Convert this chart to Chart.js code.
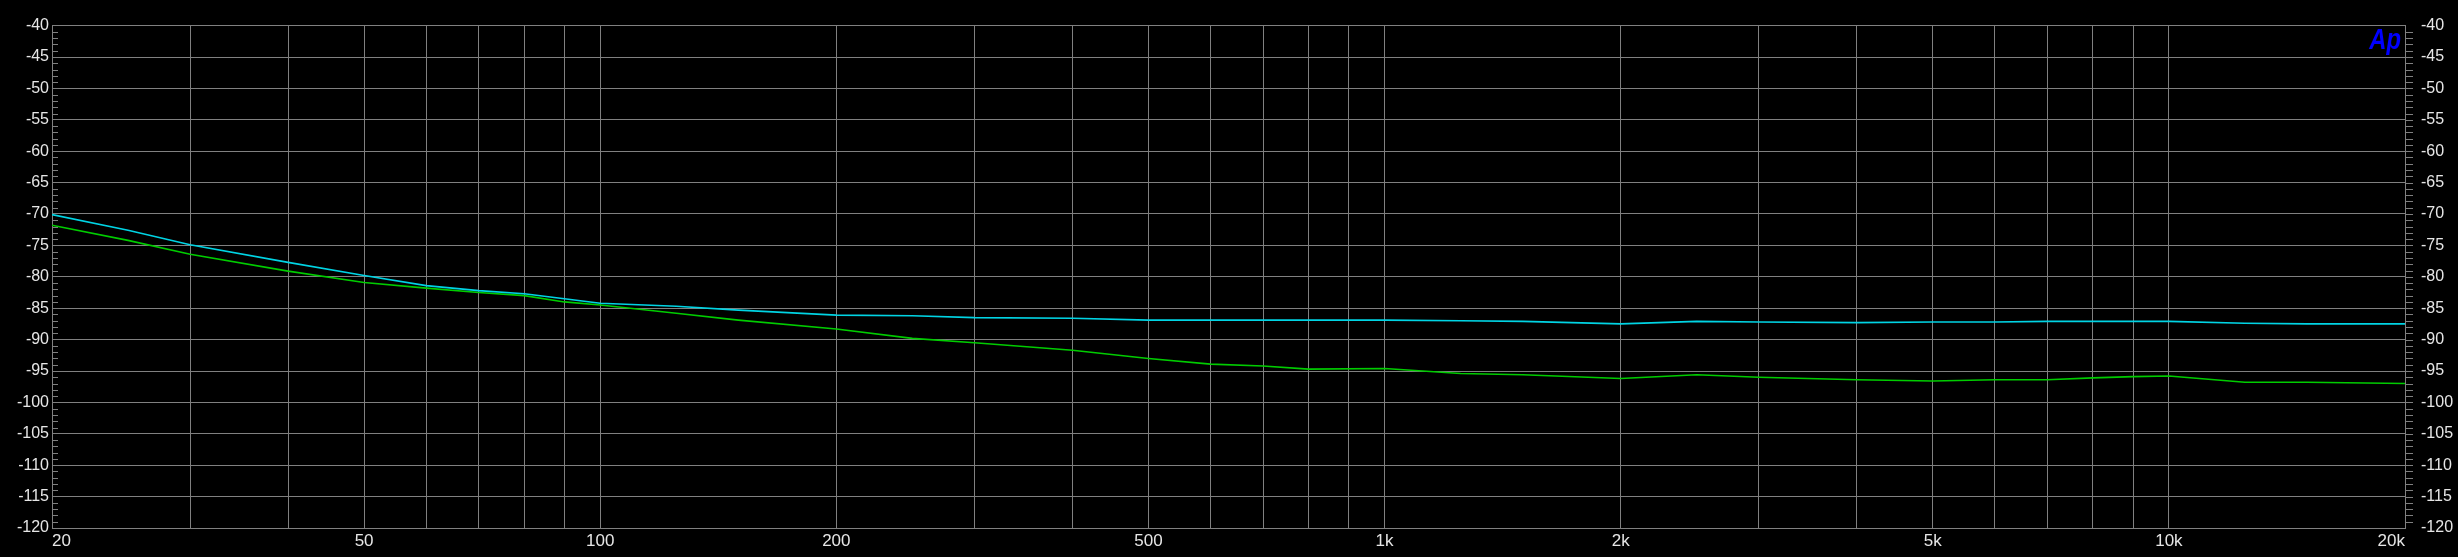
<!DOCTYPE html>
<html>
<head>
<meta charset="utf-8">
<script src="https://cdn.jsdelivr.net/npm/chart.js@4.4.1/dist/chart.umd.min.js"></script>
<style>
  html, body { margin: 0; padding: 0; background: #000; }
  #plot { display: block; }
</style>
</head>
<body>
<canvas id="plot" width="2458" height="557"></canvas>
<script>
const freqHz = [20, 25, 30, 40, 50, 60, 70, 80, 90, 100, 125, 150, 200, 250, 300, 400, 500, 600, 700, 800,
  1000, 1250, 1500, 2000, 2500, 3000, 4000, 5000, 6000, 7000, 8000, 9000, 10000, 12500, 15000, 20000];
const cyanDb = [-70.1, -72.6, -74.9, -77.7, -79.8, -81.4, -82.2, -82.7, -83.5, -84.2, -84.7, -85.3, -86.1, -86.2, -86.5, -86.6, -86.9, -86.9, -86.9, -86.9,
  -86.9, -87.0, -87.1, -87.5, -87.1, -87.2, -87.3, -87.2, -87.2, -87.1, -87.1, -87.1, -87.1, -87.4, -87.5, -87.5];
const greenDb = [-71.8, -74.2, -76.4, -79.1, -80.9, -81.8, -82.5, -83.0, -84.0, -84.5, -85.8, -86.9, -88.3, -89.8, -90.5, -91.7, -93.0, -93.9, -94.2, -94.7,
  -94.6, -95.4, -95.6, -96.2, -95.6, -96.0, -96.4, -96.6, -96.4, -96.4, -96.1, -95.9, -95.8, -96.8, -96.8, -97.0];

// axis grid + labels
const freqGrid = [20, 30, 40, 50, 60, 70, 80, 90, 100, 200, 300, 400, 500, 600, 700, 800, 900,
  1000, 2000, 3000, 4000, 5000, 6000, 7000, 8000, 9000, 10000, 20000];
const freqLabels = {20: '20', 50: '50', 100: '100', 200: '200', 500: '500', 1000: '1k', 2000: '2k', 5000: '5k', 10000: '10k', 20000: '20k'};
const dbMin = -120, dbMax = -40, dbStep = 5;

const gridColor = '#808080';
const labelColor = '#e6e6e6';
const labelFont = {family: '"Liberation Sans", Arial, sans-serif', size: 16};

// small 1 dB ticks on both y axes + the blue Ap mark
const decorPlugin = {
  id: 'decor',
  afterDraw(chart) {
    const ctx = chart.ctx;
    const y = chart.scales.y;
    const area = chart.chartArea;
    ctx.save();
    ctx.strokeStyle = gridColor;
    ctx.lineWidth = 1;
    ctx.beginPath();
    for (let v = dbMin + 1; v < dbMax; v++) {
      const py = Math.round(y.getPixelForValue(v)) + 0.5;
      if (v % dbStep !== 0) {
        ctx.moveTo(area.left, py); ctx.lineTo(area.left + 6, py);
      }
      ctx.moveTo(area.right, py); ctx.lineTo(area.right + 8, py);
    }
    ctx.stroke();

    ctx.fillStyle = '#0000ff';
    ctx.font = 'italic bold 29px "Liberation Sans", Arial, sans-serif';
    ctx.textAlign = 'right';
    ctx.textBaseline = 'alphabetic';
    ctx.translate(area.right - 4, area.top + 23);
    ctx.scale(0.82, 1);
    ctx.fillText('Ap', 0, 0);
    ctx.restore();
  }
};

const config = {
  type: 'line',
  data: {
    datasets: [
      {
        label: 'Ch1',
        data: freqHz.map((f, i) => ({x: f, y: cyanDb[i]})),
        borderColor: '#00d4e4',
        borderWidth: 1.6,
        pointRadius: 0,
        tension: 0
      },
      {
        label: 'Ch2',
        data: freqHz.map((f, i) => ({x: f, y: greenDb[i]})),
        borderColor: '#00cc00',
        borderWidth: 1.6,
        pointRadius: 0,
        tension: 0
      }
    ]
  },
  options: {
    responsive: false,
    animation: false,
    devicePixelRatio: 1,
    layout: {padding: {top: 22, left: 0, right: 0, bottom: 0}},
    plugins: {legend: {display: false}, tooltip: {enabled: false}},
    scales: {
      x: {
        type: 'logarithmic',
        min: 20,
        max: 20000,
        afterBuildTicks: (scale) => { scale.ticks = freqGrid.map(v => ({value: v})); },
        afterFit: (scale) => { scale.height = 29; },
        grid: {color: gridColor, lineWidth: 1, drawTicks: false},
        border: {display: false},
        ticks: {
          autoSkip: false,
          maxRotation: 0,
          align: 'inner',
          padding: 3,
          color: labelColor,
          font: {family: labelFont.family, size: 17},
          callback: (v) => freqLabels[v] || ''
        }
      },
      y: {
        position: 'left',
        min: dbMin,
        max: dbMax,
        afterFit: (scale) => { scale.width = 52; },
        grid: {color: gridColor, lineWidth: 1, drawTicks: false},
        border: {color: gridColor, width: 1},
        ticks: {stepSize: dbStep, padding: 3, color: labelColor, font: labelFont}
      },
      y2: {
        position: 'right',
        min: dbMin,
        max: dbMax,
        afterFit: (scale) => { scale.width = 53; },
        grid: {display: false, drawTicks: false},
        border: {color: gridColor, width: 1},
        ticks: {stepSize: dbStep, padding: 16, color: labelColor, font: labelFont}
      }
    }
  },
  plugins: [decorPlugin]
};

new Chart(document.getElementById('plot'), config);
</script>
</body>
</html>
